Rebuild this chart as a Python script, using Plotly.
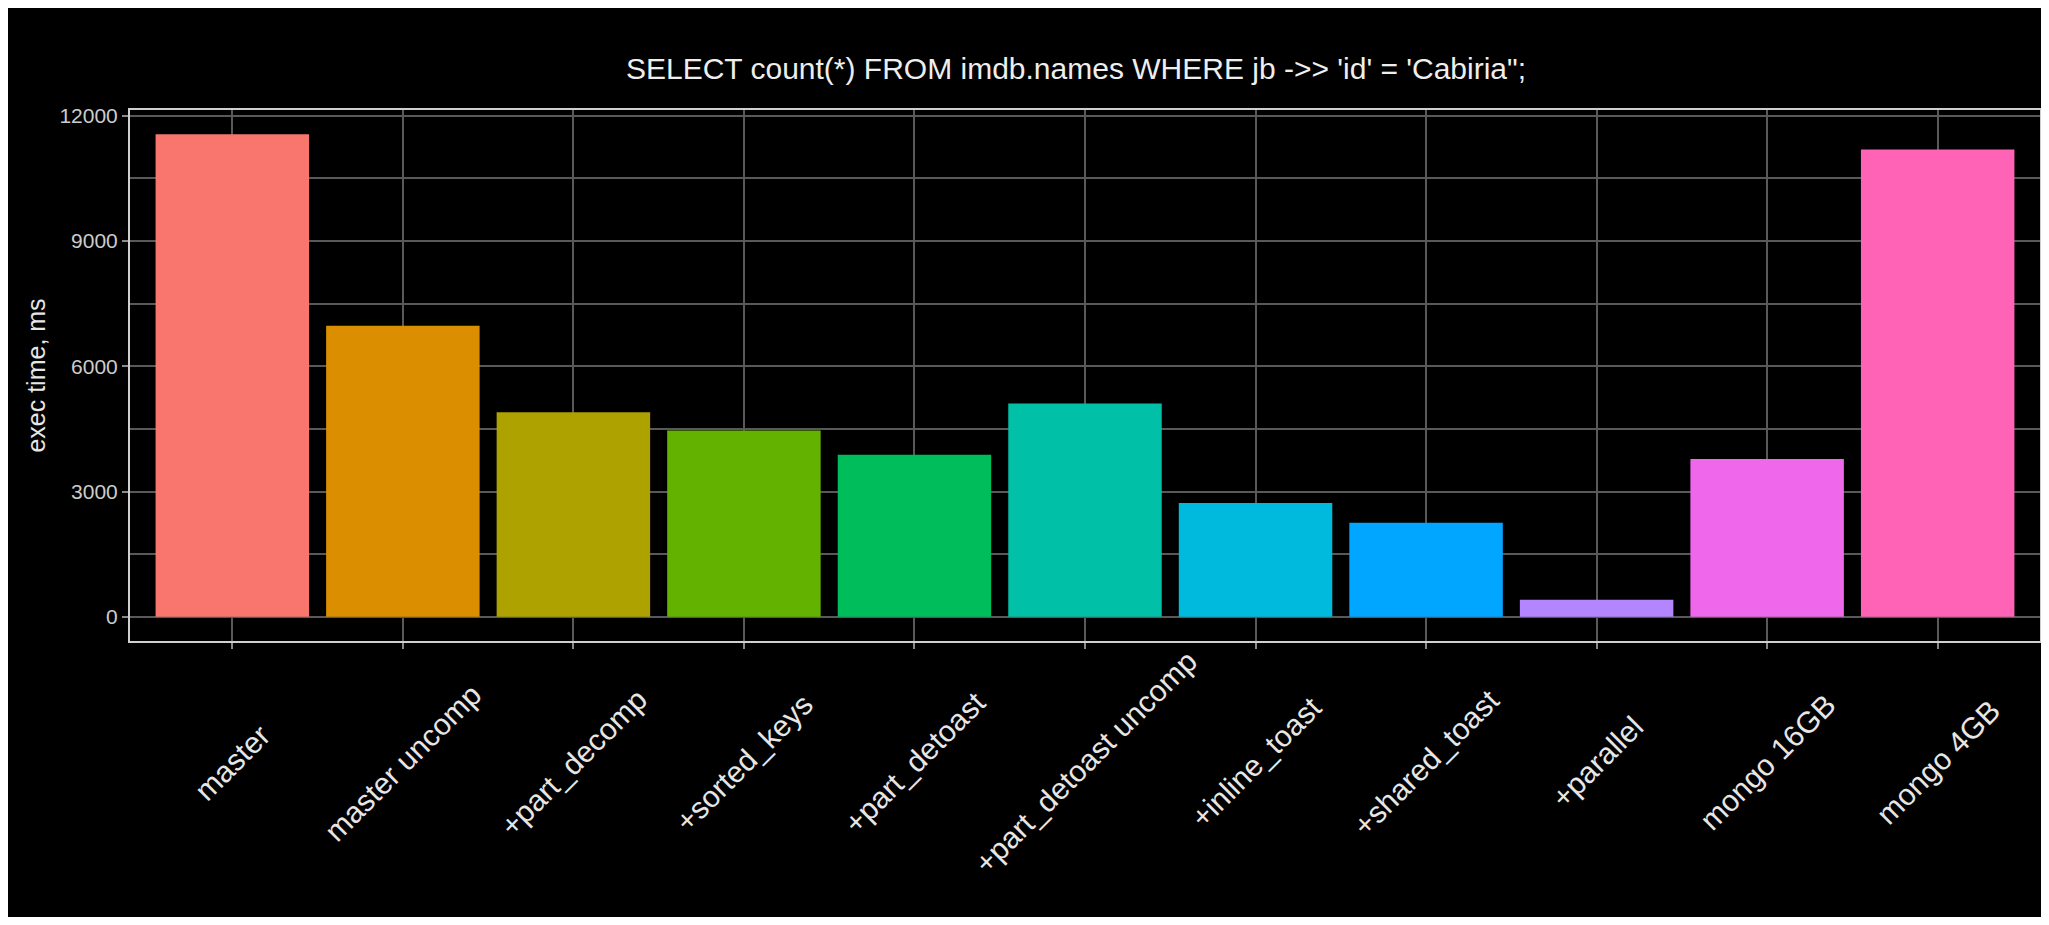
import plotly.graph_objects as go

categories = ["master", "master uncomp", "+part_decomp", "+sorted_keys", "+part_detoast",
              "+part_detoast uncomp", "+inline_toast", "+shared_toast", "+parallel",
              "mongo 16GB", "mongo 4GB"]
exec_ms = [11560, 6970, 4900, 4460, 3880, 5110, 2725, 2255, 410, 3780, 11195]
bar_colors = ["#F8766D", "#DB8E00", "#AEA200", "#64B200", "#00BD5C", "#00C1A7",
              "#00BADE", "#00A6FF", "#B385FF", "#EF67EB", "#FF63B6"]
y_tickvals = [0, 3000, 6000, 9000, 12000]
title_text = "SELECT count(*) FROM imdb.names WHERE jb ->> 'id' = 'Cabiria\";"
y_title = "exec time, ms"

FONT = "Liberation Sans, Arial, sans-serif"
GRID = "#595959"

ymax = max(exec_ms)
y_range = [-0.05 * ymax, 1.05 * ymax]

fig = go.Figure(
    go.Bar(
        x=categories,
        y=exec_ms,
        width=0.9,
        marker=dict(color=bar_colors, line=dict(width=0)),
        showlegend=False,
    )
)

annotations = []
for cat in categories:
    annotations.append(dict(
        x=cat, xref="x", y=-0.228, yref="paper",
        text=cat, textangle=-45, showarrow=False,
        xanchor="center", yanchor="middle",
        font=dict(family=FONT, size=30, color="#e6e6e6"),
    ))

W, H = 2033, 909
fig.update_layout(
    width=W, height=H,
    margin=dict(l=122, r=1, t=102, b=276, autoexpand=False),
    paper_bgcolor="black", plot_bgcolor="black",
    font=dict(family=FONT, color="#cccccc"),
    title=dict(text=title_text, x=0.4953, xref="paper", xanchor="center",
               y=1 - 60.6 / H, yref="container", yanchor="middle",
               font=dict(family=FONT, size=30, color="#eeeeee")),
    annotations=annotations,
    bargap=0.1,
)

fig.update_xaxes(
    type="category", range=[-0.6, len(categories) - 0.4],
    showticklabels=False,
    showgrid=True, gridcolor=GRID, gridwidth=2,
    ticks="outside", ticklen=6, tickwidth=2, tickcolor="#8a8a8a",
    showline=True, mirror=True, linecolor="#d0d0d0", linewidth=2,
    zeroline=False, automargin=False,
)

fig.update_yaxes(
    range=y_range, tickvals=y_tickvals, ticktext=[str(v) for v in y_tickvals],
    showgrid=True, gridcolor=GRID, gridwidth=2,
    minor=dict(dtick=1500, tick0=0, showgrid=True, gridcolor=GRID, gridwidth=2, ticks=""),
    ticks="outside", ticklen=6, tickwidth=2, tickcolor="#8a8a8a",
    tickfont=dict(family=FONT, size=21, color="#cccccc"),
    showline=True, mirror=True, linecolor="#d0d0d0", linewidth=2,
    zeroline=False, automargin=False,
    title=dict(text=y_title, standoff=7, font=dict(family=FONT, size=25, color="#e6e6e6")),
)

fig.write_html("out.html")
